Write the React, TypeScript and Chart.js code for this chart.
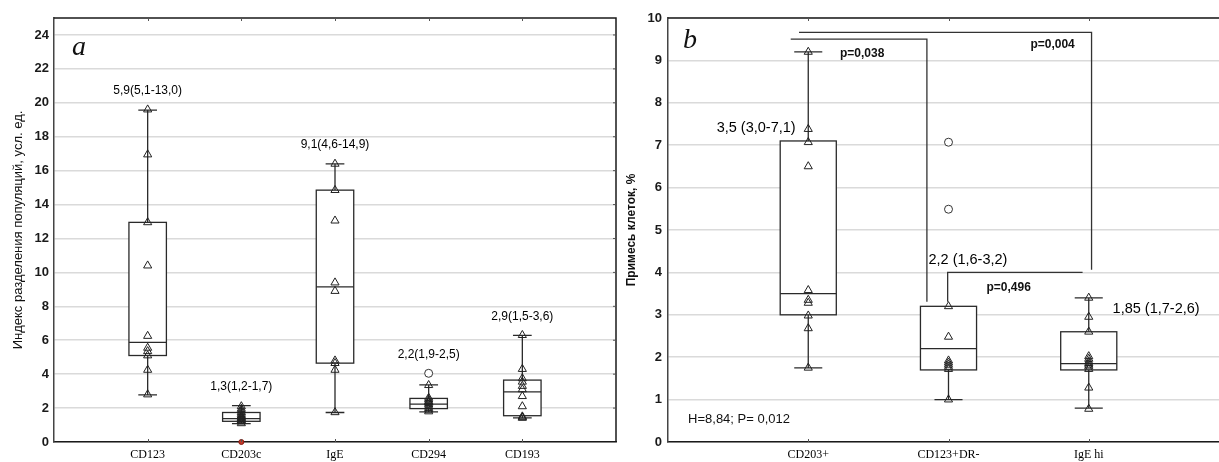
import React, { useEffect, useRef } from 'react';
import { Chart, registerables } from 'chart.js';

Chart.register(...registerables);

// ---------- Panel a ----------
const aCategories = ['CD123', 'CD203c', 'IgE', 'CD294', 'CD193'];
const aQ1 = [5.1, 1.22, 4.65, 1.97, 1.55];
const aMedian = [5.87, 1.38, 9.15, 2.23, 2.95];
const aQ3 = [12.95, 1.74, 14.85, 2.57, 3.65];
const aMin = [2.78, 1.08, 1.74, 1.78, 1.42];
const aMax = [19.57, 2.14, 16.4, 3.37, 6.29];
const aPoints = [
  [19.6, 16.95, 12.95, 10.4, 6.25, 5.55, 5.35, 5.1, 4.25, 2.8],
  [2.1, 1.95, 1.85, 1.75, 1.65, 1.55, 1.5, 1.45, 1.4, 1.35, 1.3, 1.25, 1.2, 1.1],
  [16.4, 14.85, 13.05, 9.4, 8.9, 4.8, 4.65, 4.25, 1.75],
  [3.35, 2.6, 2.5, 2.4, 2.35, 2.3, 2.2, 2.1, 2.0, 1.9, 1.8],
  [6.3, 4.3, 3.75, 3.55, 3.3, 3.1, 2.7, 2.1, 1.5, 1.45, 1.42],
];
const aOutliers = [[], [], [], [4.05], []];
const aZeroMarks = [[], [0], [], [], []];
const aLabels = ['5,9(5,1-13,0)', '1,3(1,2-1,7)', '9,1(4,6-14,9)', '2,2(1,9-2,5)', '2,9(1,5-3,6)'];
const aTitle = 'Индекс разделения популяций, усл. ед.';

// ---------- Panel b ----------
const bCategories = ['CD203+', 'CD123+DR-', 'IgE hi'];
const bQ1 = [3.0, 1.7, 1.7];
const bMedian = [3.5, 2.2, 1.85];
const bQ3 = [7.1, 3.2, 2.6];
const bMin = [1.75, 1.0, 0.8];
const bMax = [9.2, 3.2, 3.4];
const bPoints = [
  [9.2, 7.38, 7.07, 6.5, 3.58, 3.35, 3.28, 2.98, 2.68, 1.75],
  [3.2, 2.48, 1.92, 1.87, 1.82, 1.77, 1.72, 1.0],
  [3.4, 2.95, 2.6, 2.02, 1.96, 1.9, 1.86, 1.82, 1.78, 1.72, 1.28, 0.78],
];
const bOutliers = [[], [7.07, 5.49], []];
const bLabels = ['3,5 (3,0-7,1)', '2,2 (1,6-3,2)', '1,85 (1,7-2,6)'];
const bPValues = ['p=0,038', 'p=0,004', 'p=0,496'];
const bStat = 'H=8,84; P= 0,012';
const bTitle = 'Примесь клеток, %';

const SANS = "'Liberation Sans', Arial, sans-serif";
const SERIF = "'Liberation Serif', 'Times New Roman', serif";
const LINE = '#2a2a2a';

type Spec = {
  cats: string[];
  q1: number[];
  med: number[];
  q3: number[];
  min: number[];
  max: number[];
  points: number[][];
  outliers: number[][];
  zero: number[][];
  yMax: number;
  yStep: number;
  xMax: number;
  yWidth: number;
  padRight: number;
  canvasWidth: number;
  tickPad: number;
  rightBorder: boolean;
  decorate: (chart: any) => void;
};

function drawBoxes(chart: any, s: Spec) {
  const { ctx } = chart;
  const x = chart.scales.x;
  const y = chart.scales.y;
  ctx.save();
  ctx.strokeStyle = LINE;
  ctx.lineWidth = 1.3;
  s.q1.forEach((q1, i) => {
    const cx = x.getPixelForValue(i + 1);
    const hw = x.getPixelForValue(i + 1.2) - cx;
    const cw = x.getPixelForValue(i + 1.1) - cx;
    const top = y.getPixelForValue(s.q3[i]);
    const bot = y.getPixelForValue(q1);
    const yMaxP = y.getPixelForValue(s.max[i]);
    const yMinP = y.getPixelForValue(s.min[i]);
    ctx.beginPath();
    ctx.moveTo(cx, yMaxP);
    ctx.lineTo(cx, top);
    ctx.moveTo(cx, bot);
    ctx.lineTo(cx, yMinP);
    if (s.max[i] > s.q3[i] + 0.01) {
      ctx.moveTo(cx - cw, yMaxP);
      ctx.lineTo(cx + cw, yMaxP);
    }
    if (s.min[i] < q1 - 0.01) {
      ctx.moveTo(cx - cw, yMinP);
      ctx.lineTo(cx + cw, yMinP);
    }
    ctx.stroke();
    ctx.fillStyle = '#fff';
    ctx.fillRect(cx - hw, top, hw * 2, bot - top);
    ctx.strokeRect(cx - hw, top, hw * 2, bot - top);
    const m = y.getPixelForValue(s.med[i]);
    ctx.beginPath();
    ctx.moveTo(cx - hw, m);
    ctx.lineTo(cx + hw, m);
    ctx.stroke();
  });
  ctx.restore();
}

function drawFrame(chart: any, s: Spec) {
  const { ctx, chartArea } = chart;
  const x = chart.scales.x;
  const y = chart.scales.y;
  ctx.save();
  ctx.strokeStyle = '#1a1a1a';
  ctx.lineWidth = 1.5;
  ctx.beginPath();
  ctx.moveTo(chartArea.left, chartArea.top);
  ctx.lineTo(chartArea.right + (s.rightBorder ? 0 : 20), chartArea.top);
  if (s.rightBorder) {
    ctx.lineTo(chartArea.right, chartArea.bottom);
  }
  ctx.stroke();
  ctx.lineWidth = 1;
  ctx.strokeStyle = '#555';
  ctx.beginPath();
  s.cats.forEach((_, i) => {
    const cx = Math.round(x.getPixelForValue(i + 1)) + 0.5;
    ctx.moveTo(cx, chartArea.top);
    ctx.lineTo(cx, chartArea.top + 3);
    ctx.moveTo(cx, chartArea.bottom);
    ctx.lineTo(cx, chartArea.bottom - 3);
  });
  if (s.rightBorder) {
    for (let v = s.yStep; v < s.yMax; v += s.yStep) {
      const py = y.getPixelForValue(v);
      ctx.moveTo(chartArea.right, py);
      ctx.lineTo(chartArea.right - 3, py);
    }
  }
  ctx.stroke();
  ctx.restore();
}

function text(ctx: any, str: string, px: number, py: number, font: string, align = 'left', color = '#111') {
  ctx.save();
  ctx.font = font;
  ctx.fillStyle = color;
  ctx.textAlign = align;
  ctx.textBaseline = 'middle';
  ctx.fillText(str, px, py);
  ctx.restore();
}

function vText(ctx: any, str: string, px: number, py: number, font: string) {
  ctx.save();
  ctx.translate(px, py);
  ctx.rotate(-Math.PI / 2);
  ctx.font = font;
  ctx.fillStyle = '#111';
  ctx.textAlign = 'center';
  ctx.textBaseline = 'middle';
  ctx.fillText(str, 0, 0);
  ctx.restore();
}

function decorateA(chart: any) {
  const { ctx, chartArea } = chart;
  const x = chart.scales.x;
  const y = chart.scales.y;
  aLabels.forEach((lab, i) => {
    const topVal = Math.max(aMax[i], ...aOutliers[i]);
    text(ctx, lab, x.getPixelForValue(i + 1), y.getPixelForValue(topVal) - 19, `12px ${SANS}`, 'center', '#000');
  });
  vText(ctx, aTitle, 18, (chartArea.top + chartArea.bottom) / 2, `13px ${SANS}`);
  ctx.save();
  ctx.font = `italic 28px ${SERIF}`;
  ctx.fillStyle = '#111';
  ctx.fillText('a', chartArea.left + 18, chartArea.top + 37);
  ctx.restore();
}

function decorateB(chart: any) {
  const { ctx, chartArea } = chart;
  const x = chart.scales.x;
  const y = chart.scales.y;
  const X = (v: number) => x.getPixelForValue(v);
  const Y = (v: number) => y.getPixelForValue(v);
  // comparison brackets
  ctx.save();
  ctx.strokeStyle = '#333';
  ctx.lineWidth = 1.3;
  ctx.beginPath();
  // CD203+ vs CD123+DR-
  ctx.moveTo(X(0.875), Y(9.5));
  ctx.lineTo(X(1.846), Y(9.5));
  ctx.lineTo(X(1.846), Y(3.31));
  // CD203+ vs IgE hi
  ctx.moveTo(X(0.934), Y(9.66));
  ctx.lineTo(X(3.02), Y(9.66));
  ctx.lineTo(X(3.02), Y(4.06));
  // CD123+DR- vs IgE hi
  ctx.moveTo(X(1.994), Y(3.31));
  ctx.lineTo(X(1.994), Y(4.0));
  ctx.lineTo(X(2.956), Y(4.0));
  ctx.stroke();
  ctx.restore();

  const big = `14.5px ${SANS}`;
  text(ctx, bLabels[0], X(0.91), Y(7.4), big, 'right', '#000');
  text(ctx, bLabels[1], X(1.857), Y(4.29), big, 'left', '#000');
  text(ctx, bLabels[2], X(3.17), Y(3.14), big, 'left', '#000');
  const bold = `bold 12px ${SANS}`;
  text(ctx, bPValues[0], X(1.226), Y(9.17), bold, 'left');
  text(ctx, bPValues[1], X(2.584), Y(9.36), bold, 'left');
  text(ctx, bPValues[2], X(2.271), Y(3.63), bold, 'left');
  text(ctx, bStat, X(0.143), Y(0.54), `13px ${SANS}`, 'left');
  vText(ctx, bTitle, 12, (chartArea.top + chartArea.bottom) / 2, `bold 12px ${SANS}`);
  ctx.save();
  ctx.font = `italic 28px ${SERIF}`;
  ctx.fillStyle = '#111';
  ctx.fillText('b', chartArea.left + 15, chartArea.top + 30);
  ctx.restore();
}

const specA: Spec = {
  cats: aCategories,
  q1: aQ1,
  med: aMedian,
  q3: aQ3,
  min: aMin,
  max: aMax,
  points: aPoints,
  outliers: aOutliers,
  zero: aZeroMarks,
  yMax: 25,
  yStep: 2,
  xMax: 6,
  yWidth: 54,
  padRight: 9,
  canvasWidth: 625,
  tickPad: 5,
  rightBorder: true,
  decorate: decorateA,
};

const specB: Spec = {
  cats: bCategories,
  q1: bQ1,
  med: bMedian,
  q3: bQ3,
  min: bMin,
  max: bMax,
  points: bPoints,
  outliers: bOutliers,
  zero: [[], [], []],
  yMax: 10,
  yStep: 1,
  xMax: 4,
  yWidth: 48,
  padRight: 11,
  canvasWidth: 620,
  tickPad: 6,
  rightBorder: false,
  decorate: decorateB,
};

function flatten(groups: number[][]) {
  const out: { x: number; y: number }[] = [];
  groups.forEach((g, i) => g.forEach((v) => out.push({ x: i + 1, y: v })));
  return out;
}

function buildConfig(s: Spec): any {
  const plugin = {
    id: 'boxplotDecor',
    beforeDatasetsDraw(chart: any) {
      drawBoxes(chart, s);
    },
    afterDraw(chart: any) {
      drawFrame(chart, s);
      s.decorate(chart);
    },
  };
  return {
    type: 'scatter',
    data: {
      datasets: [
        {
          data: flatten(s.points),
          pointStyle: 'triangle',
          pointRadius: 4.7,
          pointBorderWidth: 1,
          pointBorderColor: '#222',
          pointBackgroundColor: 'rgba(255,255,255,0)',
          clip: false,
        },
        {
          data: flatten(s.outliers),
          pointStyle: 'circle',
          pointRadius: 4,
          pointBorderWidth: 1,
          pointBorderColor: '#333',
          pointBackgroundColor: '#fff',
          clip: false,
        },
        {
          data: flatten(s.zero),
          pointStyle: 'circle',
          pointRadius: 2.5,
          pointBorderWidth: 1,
          pointBorderColor: '#8a1c10',
          pointBackgroundColor: '#c0392b',
          clip: false,
        },
      ],
    },
    options: {
      responsive: false,
      animation: false,
      events: [],
      layout: { padding: { left: 0, right: s.padRight, top: 18, bottom: 0 } },
      plugins: { legend: { display: false }, tooltip: { enabled: false } },
      scales: {
        x: {
          type: 'linear',
          min: 0,
          max: s.xMax,
          afterFit: (sc: any) => {
            sc.height = 20;
          },
          grid: { display: false, drawTicks: false },
          border: { display: true, color: '#1a1a1a', width: 1.5 },
          ticks: {
            stepSize: 1,
            autoSkip: false,
            maxRotation: 0,
            padding: 6,
            color: '#000',
            font: { family: SERIF, size: 12 },
            callback: (v: number) => s.cats[v - 1] ?? '',
          },
        },
        y: {
          type: 'linear',
          min: 0,
          max: s.yMax,
          afterFit: (sc: any) => {
            sc.width = s.yWidth;
          },
          grid: { color: '#dadada', lineWidth: 1.5, drawTicks: false },
          border: { display: true, color: '#444', width: 1.5 },
          ticks: {
            stepSize: s.yStep,
            includeBounds: false,
            padding: s.tickPad,
            color: '#1a1a1a',
            font: { family: SANS, size: 13, weight: 'bold' },
          },
        },
      },
    },
    plugins: [plugin],
  };
}

function Panel({ spec, left }: { spec: Spec; left: number }) {
  const ref = useRef<HTMLCanvasElement>(null);
  useEffect(() => {
    if (!ref.current) return;
    const chart = new Chart(ref.current, buildConfig(spec));
    return () => chart.destroy();
  }, [spec]);
  return (
    <canvas
      ref={ref}
      width={spec.canvasWidth}
      height={462}
      style={{ position: 'absolute', left, top: 0, width: spec.canvasWidth, height: 462 }}
    />
  );
}

export default function App() {
  return (
    <div
      style={{
        position: 'absolute',
        left: 0,
        top: 0,
        width: 1219,
        height: 462,
        overflow: 'hidden',
        background: '#fff',
      }}
    >
      <Panel spec={specA} left={0} />
      <Panel spec={specB} left={620} />
    </div>
  );
}
